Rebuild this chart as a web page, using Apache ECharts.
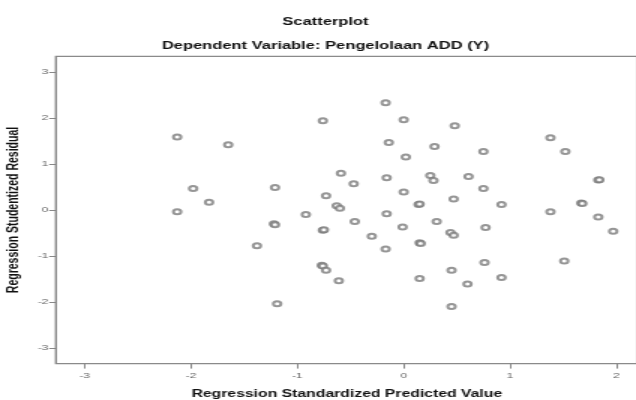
<!DOCTYPE html>
<html>
<head>
<meta charset="utf-8">
<script src="https://cdn.jsdelivr.net/npm/echarts@6/dist/echarts.min.js"></script>
<style>
html,body{margin:0;padding:0;background:#fff;overflow:hidden;}
#wrap{width:636px;height:400px;overflow:hidden;position:relative;}
#chart{width:432px;height:400px;transform:scaleX(1.5);transform-origin:0 0;}
</style>
</head>
<body>
<div id="wrap"><div id="chart"></div></div>
<script>
// Regression Standardized Predicted Value
const predicted = [-2.13,-1.65,-1.98,-1.83,-2.13,-0.17,-0.76,0.00,-0.14,0.29,0.02,-0.59,-0.47,-0.16,0.25,0.28,-1.21,-0.73,-0.63,-0.60,0.00,0.14,0.15,-0.92,-1.22,-1.21,-0.76,-0.75,-0.46,-0.16,-0.01,-0.30,0.31,0.48,0.75,1.38,1.52,0.61,0.75,1.83,1.84,0.47,0.92,1.67,1.68,1.38,1.83,1.97,0.44,0.47,0.77,-1.38,0.15,0.16,-0.17,-0.77,-0.76,-0.73,-0.61,0.15,-1.19,0.76,0.45,0.60,0.92,1.51,0.45];
// Regression Studentized Residual
const residual = [1.59,1.42,0.47,0.17,-0.04,2.33,1.94,1.96,1.47,1.38,1.15,0.80,0.57,0.70,0.75,0.64,0.49,0.31,0.09,0.04,0.39,0.12,0.13,-0.10,-0.30,-0.32,-0.44,-0.43,-0.25,-0.08,-0.37,-0.57,-0.25,1.83,1.27,1.57,1.27,0.73,0.47,0.65,0.66,0.24,0.12,0.15,0.14,-0.04,-0.15,-0.46,-0.49,-0.55,-0.38,-0.78,-0.71,-0.73,-0.85,-1.20,-1.22,-1.31,-1.54,-1.49,-2.04,-1.14,-1.31,-1.61,-1.47,-1.11,-2.10];
const xTicks = [-3,-2,-1,0,1,2];
const yTicks = [-3,-2,-1,0,1,2,3];
const titleText = 'Scatterplot';
const subtitleText = 'Dependent Variable: Pengelolaan ADD (Y)';
const xName = 'Regression Standardized Predicted Value';
const yName = 'Regression Studentized Residual';

const points = predicted.map((v,i)=>[v,residual[i]]);
const FONT = '"Liberation Sans", Arial, sans-serif';

const chart = echarts.init(document.getElementById('chart'), null, {renderer:'canvas'});
chart.setOption({
  animation:false,
  backgroundColor:'#fff',
  title:[
    {text:titleText,left:212,textAlign:'center',top:11,textStyle:{fontFamily:FONT,fontSize:11,fontWeight:'bold',color:'#111'}},
    {text:subtitleText,left:212,textAlign:'center',top:35,textStyle:{fontFamily:FONT,fontSize:11,fontWeight:'bold',color:'#111'}}
  ],
  grid:{left:37.3,right:6.9,top:56.4,bottom:36.4,containLabel:false,outerBoundsMode:'none',show:true,borderColor:'#8a8a8a',borderWidth:1.4,backgroundColor:'transparent'},
  xAxis:{
    type:'value',min:-3.27,max:2.2,
    name:xName,nameLocation:'middle',nameGap:25,
    nameTextStyle:{fontFamily:FONT,fontSize:10.5,fontWeight:'bold',color:'#111'},
    axisLine:{show:false,onZero:false},
    splitLine:{show:false},
    axisTick:{show:true,length:5,customValues:xTicks,lineStyle:{color:'#888',width:1}},
    axisLabel:{customValues:xTicks,margin:8,fontFamily:FONT,fontSize:8,color:'#666'}
  },
  yAxis:{
    type:'value',min:-3.34,max:3.34,
    name:yName,nameLocation:'middle',nameGap:16,nameRotate:90,
    nameTextStyle:{fontFamily:FONT,fontSize:10.5,fontWeight:'bold',color:'#111'},
    axisLine:{show:false,onZero:false},
    splitLine:{show:false},
    axisTick:{show:true,length:4.5,customValues:yTicks,lineStyle:{color:'#888',width:1}},
    axisLabel:{customValues:yTicks,margin:5,fontFamily:FONT,fontSize:8,color:'#666'}
  },
  series:[{
    type:'scatter',
    data:points,
    symbol:'emptyCircle',
    symbolSize:5,
    itemStyle:{color:'#7c7c7c',borderColor:'#7c7c7c',borderWidth:1},
    emphasis:{disabled:true}
  }]
});
</script>
</body>
</html>
